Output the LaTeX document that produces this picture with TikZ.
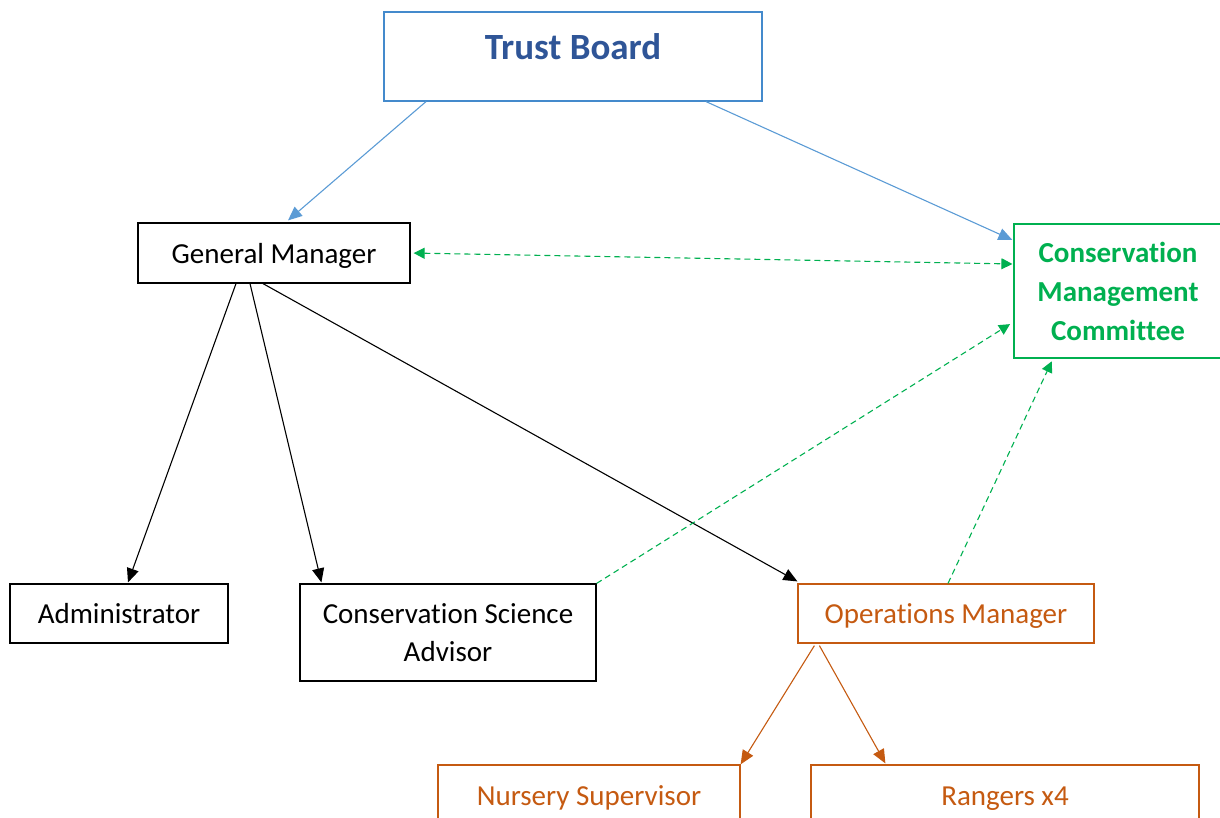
\documentclass[tikz,border=0pt]{standalone}
\usepackage{fontspec}
\setmainfont{Carlito}[RawFeature={-ccmp;-liga;-clig;-calt;-rlig;-dlig}]
\usetikzlibrary{arrows.meta}
\definecolor{boardline}{RGB}{68,138,204}
\definecolor{boardtext}{RGB}{47,85,151}
\definecolor{linkblue}{RGB}{91,155,213}
\definecolor{cmcgreen}{RGB}{0,176,80}
\definecolor{opsorange}{RGB}{197,90,17}

\begin{document}
\begin{tikzpicture}[x=1pt,y=-1pt,
  box/.style={draw,line width=1.2pt,inner sep=0pt,align=center,
    minimum height=60pt,font=\fontsize{29}{38.5}\selectfont},
  oneline/.style={text height=22pt,text depth=2pt},
  tip/.style={-{Triangle[length=14pt,width=12pt]}},
  report/.style={tip,line width=1.1pt},
  liaise/.style={line width=1.1pt,cmcgreen,dash pattern=on 6pt off 4pt,
    {Triangle[length=11pt,width=11pt]}-{Triangle[length=11pt,width=11pt]}},
  liaiseto/.style={line width=1.1pt,cmcgreen,dash pattern=on 6pt off 4pt,
    -{Triangle[length=11pt,width=11pt]}}]
  \useasboundingbox (0,0) rectangle (1220,818);
  \clip (0,0) rectangle (1220,818);

  % top
  \node[box,draw=boardline,text=boardtext,minimum width=378pt,minimum height=89pt,
    font=\fontsize{37}{44}\selectfont\bfseries,text height=30pt,text depth=23pt]
    (board) at (573,56.5) {Trust Board};
  \node[box,oneline,minimum width=272pt] (gm) at (274,253) {General Manager};
  \node[box,draw=cmcgreen,text=cmcgreen,font=\fontsize{29}{39}\selectfont\bfseries,
    minimum width=208pt,minimum height=134pt]
    (cmc) at (1118,291) {Conservation\\Management\\Committee};

  % staff
  \node[box,oneline,minimum width=218pt,minimum height=59pt] (admin) at (119,613.5) {Administrator};
  \node[box,minimum width=296pt,minimum height=97pt] (csa) at (448,632.5)
    {Conservation Science\\Advisor};
  \node[box,oneline,draw=opsorange,text=opsorange,minimum width=296pt,minimum height=59pt]
    (ops) at (946,613.5) {Operations Manager};
  \node[box,oneline,draw=opsorange,text=opsorange,minimum width=302pt] (nursery) at (589,795)
    {Nursery Supervisor};
  \node[box,oneline,draw=opsorange,text=opsorange,minimum width=388pt] (rangers) at (1005,795)
    {Rangers x4};

  % lines
  \draw[report,linkblue] ([xshift=-147pt]board.south) -- ([xshift=14pt,yshift=2pt]gm.north);
  \draw[report,linkblue] ([xshift=133pt]board.south) -- ([yshift=51pt,xshift=-1pt]cmc.west);
  \draw[liaise,shorten <=3pt,shorten >=1pt] (gm.east) -- ([yshift=27pt]cmc.west);
  \draw[report] ([xshift=-38pt]gm.south) -- ([xshift=9pt,yshift=1pt]admin.north);
  \draw[report] ([xshift=-24pt]gm.south) -- ([xshift=22pt,yshift=1pt]csa.north west);
  \draw[report] ([xshift=-11pt]gm.south) -- ([yshift=2pt]ops.north west);
  \draw[liaiseto,shorten >=4pt] (csa.north east) -- ([yshift=-31pt]cmc.west);
  \draw[liaiseto,shorten >=3pt] ([xshift=2pt]ops.north) -- ([xshift=-65pt]cmc.south);
  \draw[report,opsorange] ([xshift=17pt,yshift=-2pt]ops.south west) -- (nursery.north east);
  \draw[report,opsorange] ([xshift=22pt,yshift=-2pt]ops.south west) -- ([xshift=75pt,yshift=1pt]rangers.north west);
\end{tikzpicture}
\end{document}
